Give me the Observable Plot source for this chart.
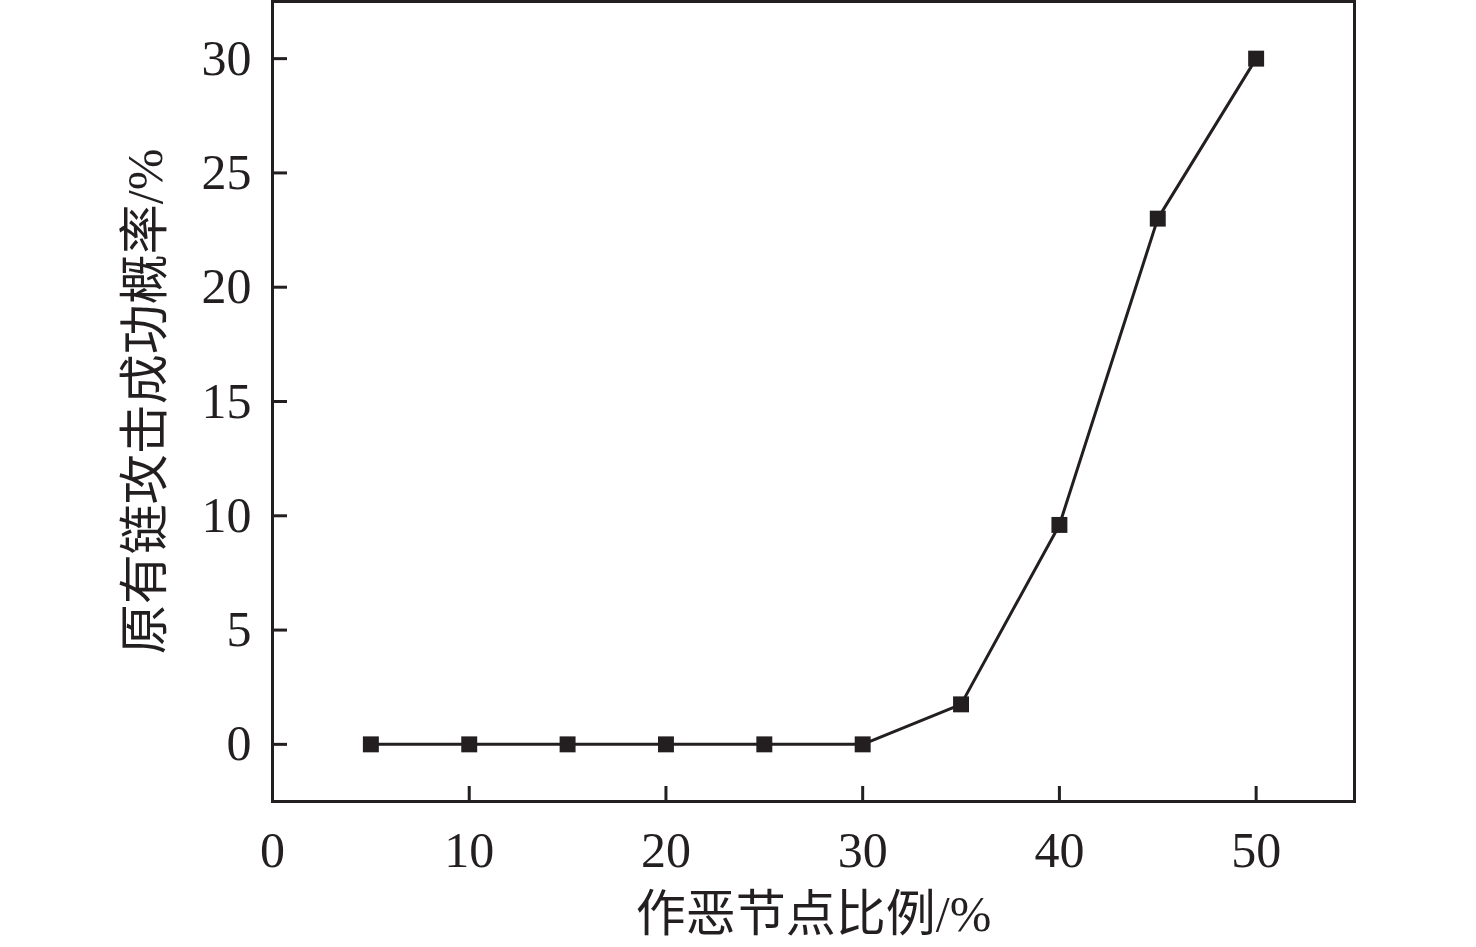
<!DOCTYPE html>
<html>
<head>
<meta charset="utf-8">
<script src="https://cdn.jsdelivr.net/npm/d3@7"></script>
<script src="https://cdn.jsdelivr.net/npm/@observablehq/plot@0.6"></script>
<style>
  html, body { margin: 0; padding: 0; background: #fff; }
  #chart svg { display: block; }
</style>
</head>
<body>
<div id="chart"></div>
<script>
const ratios = [5, 10, 15, 20, 25, 30, 35, 40, 45, 50];
const success = [0, 0, 0, 0, 0, 0, 1.75, 9.6, 23, 30];
const xTicks = [0, 10, 20, 30, 40, 50];
const yTicks = [0, 5, 10, 15, 20, 25, 30];
const xLabel = "作恶节点比例/%";
const yLabel = "原有链攻击成功概率/%";

const data = ratios.map((r, i) => ({x: r, y: success[i]}));
const ink = "#231f20";
const font = "'Liberation Serif', 'Noto Sans CJK SC', serif";

const W = 1476, H = 947, ML = 272, MR = 122, MT = 1, MB = 146;
const frameW = W - ML - MR, frameH = H - MT - MB, tickLen = 15;

const chart = Plot.plot({
  width: W,
  height: H,
  marginLeft: ML,
  marginRight: MR,
  marginTop: MT,
  marginBottom: MB,
  style: {fontFamily: font, fontSize: "50px", color: ink, background: "#fff"},
  x: {domain: [0, 55]},
  y: {domain: [-2.5, 32.5]},
  marks: [
    // inward ticks
    Plot.tickX(xTicks, {x: d => d, insetTop: frameH - tickLen, stroke: ink, strokeWidth: 3}),
    Plot.tickY(yTicks, {y: d => d, insetRight: frameW - tickLen, stroke: ink, strokeWidth: 3}),
    // tick labels
    Plot.axisX({ticks: xTicks, tickSize: 0, tickPadding: 30, label: null, fontSize: 50, fill: ink}),
    Plot.axisY({ticks: yTicks, tickSize: 0, tickPadding: 21, label: null, fontSize: 50, fill: ink}),
    Plot.frame({stroke: ink, strokeWidth: 3}),
    Plot.line(data, {x: "x", y: "y", stroke: ink, strokeWidth: 3}),
    Plot.dot(data, {x: "x", y: "y", symbol: "square", r: 9, fill: ink, stroke: "none"}),
    Plot.text([xLabel], {text: d => d, frameAnchor: "bottom", dy: 113, fontSize: 50, fill: ink, lineAnchor: "middle", textAnchor: "middle"}),
    Plot.text([yLabel], {text: d => d, frameAnchor: "left", dx: -127, rotate: -90, fontSize: 50, fill: ink, lineAnchor: "middle", textAnchor: "middle"})
  ]
});
document.getElementById("chart").appendChild(chart);
</script>
</body>
</html>
